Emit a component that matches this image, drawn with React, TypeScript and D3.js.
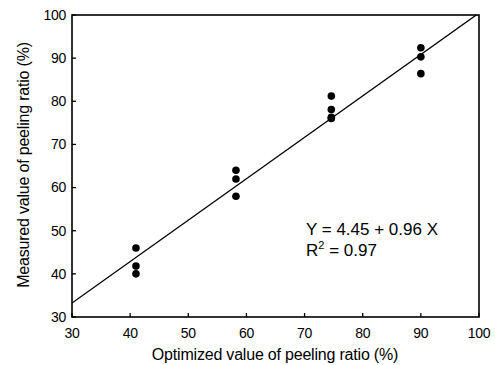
import React from "react";
import * as d3 from "d3";

const xTicks = [30, 40, 50, 60, 70, 80, 90, 100];
const yTicks = [30, 40, 50, 60, 70, 80, 90, 100];
const optimized = [41, 41, 41, 58.2, 58.2, 58.2, 74.6, 74.6, 74.6, 74.6, 90, 90, 90];
const measured = [46, 41.8, 40, 64, 62, 58, 81.2, 78.1, 76.3, 76, 92.4, 90.3, 86.4];
const intercept = 4.45;
const slope = 0.96;
const eqText = "Y = 4.45 + 0.96 X";
const r2Value = "0.97";

export default function App() {
  const W = 495, H = 365;
  const L = 72, R = 479, T = 15, B = 317;
  const x = d3.scaleLinear().domain([30, 100]).range([L, R]);
  const y = d3.scaleLinear().domain([30, 100]).range([B, T]);
  const font = "'Liberation Sans', Arial, sans-serif";
  const fitX = [30, 100];
  const line = d3.line<number>().x((d) => x(d)).y((d) => y(intercept + slope * d));
  return (
    <svg width={W} height={H} style={{ position: "absolute", left: 0, top: 0, background: "#fff" }} fontFamily={font}>
      <defs>
        <clipPath id="plot">
          <rect x={L} y={T} width={R - L} height={B - T} />
        </clipPath>
      </defs>
      <rect x={0} y={0} width={W} height={H} fill="#fff" />
      <path d={line(fitX) || ""} stroke="#000" strokeWidth={1.3} fill="none" clipPath="url(#plot)" />
      {optimized.map((v, i) => (
        <circle key={i} cx={x(v)} cy={y(measured[i])} r={3.8} fill="#000" />
      ))}
      <rect x={L} y={T} width={R - L} height={B - T} fill="none" stroke="#000" strokeWidth={1.6} />
      {xTicks.map((t) => (
        <g key={"x" + t}>
          <line x1={x(t)} x2={x(t)} y1={B} y2={B - 4} stroke="#000" strokeWidth={1.3} />
          <text x={x(t)} y={338} fontSize={14} textAnchor="middle" letterSpacing={-0.3}>{t}</text>
        </g>
      ))}
      {yTicks.map((t) => (
        <g key={"y" + t}>
          <line x1={L} x2={L + 4} y1={y(t)} y2={y(t)} stroke="#000" strokeWidth={1.3} />
          <text x={66} y={y(t)} dy="0.35em" fontSize={14} textAnchor="end" letterSpacing={-0.3}>{t}</text>
        </g>
      ))}
      <text x={275} y={360} fontSize={16} textAnchor="middle" letterSpacing={-0.2}>
        Optimized value of peeling ratio (%)
      </text>
      <text transform={`translate(29,165) rotate(-90)`} fontSize={16} textAnchor="middle" letterSpacing={-0.2}>
        Measured value of peeling ratio (%)
      </text>
      <text x={306} y={235} fontSize={17}>{eqText}</text>
      <text x={306} y={256} fontSize={17}>
        R<tspan dy={-7} fontSize={11}>2</tspan><tspan dy={7}> = {r2Value}</tspan>
      </text>
    </svg>
  );
}
